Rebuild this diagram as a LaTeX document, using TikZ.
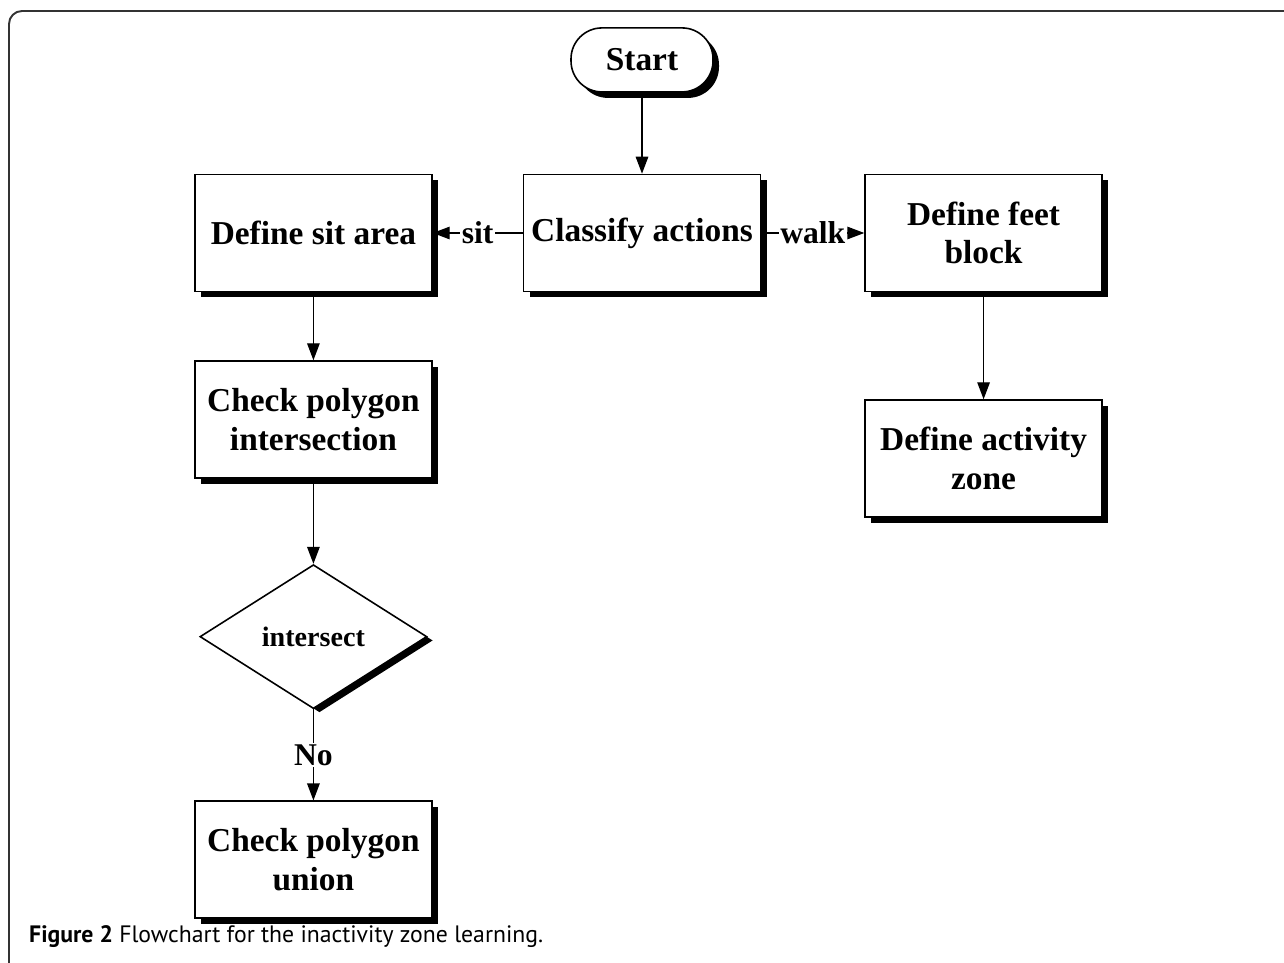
\documentclass[tikz,border=0pt]{standalone}
\usepackage{fontspec}
\setmainfont{Liberation Serif}
\newfontfamily\capfont{PT Sans}
\usepackage{tikz}
\usetikzlibrary{shapes.geometric, arrows.meta, positioning, shadows}
\usepackage{xcolor}
\definecolor{framestr}{HTML}{333333}
\tikzset{
  procbox/.style ={rectangle, draw=black, fill=white, line width=0.9pt,
                   minimum width=4.74cm, minimum height=2.34cm, align=center,
                   font=\fontsize{19}{22}\selectfont\bfseries,
                   drop shadow={shadow xshift=0.12cm, shadow yshift=-0.12cm, fill=black, opacity=1}},
  termbox/.style ={rectangle, rounded corners=0.62cm, draw=black, fill=white, line width=0.9pt,
                   minimum width=2.84cm, minimum height=1.28cm, align=center,
                   font=\fontsize{19}{22}\selectfont\bfseries,
                   drop shadow={shadow xshift=0.12cm, shadow yshift=-0.12cm, fill=black, opacity=1}},
  decbox/.style  ={diamond, draw=black, fill=white, line width=0.9pt, inner sep=0pt,
                   minimum width=4.54cm, minimum height=2.88cm, align=center,
                   font=\fontsize{16}{19}\selectfont\bfseries,
                   drop shadow={shadow xshift=0.12cm, shadow yshift=-0.076cm, fill=black, opacity=1}},
  lbl/.style     ={fill=white, inner sep=1pt, font=\fontsize{18}{20}\selectfont\bfseries},
  flow/.style    ={-{Triangle[length=0.34cm, width=0.25cm]}, line width=0.8pt},
}

\begin{document}
\begin{tikzpicture}
  \useasboundingbox (0,0) rectangle (25.68,-19.26);
  % frame of the figure
  \draw[framestr, line width=1.1pt, rounded corners=0.26cm]
    (0.18,-19.26) -- (0.18,-0.22) -- (25.68,-0.22);

  \node[procbox] (classify) at (12.84,-4.66) {Classify actions};
  \node[termbox, above=1.62cm of classify] (start) {Start};
  \node[procbox, left=1.8cm of classify] (sit) {Define sit area};
  \node[procbox, right=2.06cm of classify] (feet) {Define feet\\block};
  \node[procbox, below=1.36cm of sit] (inters) {Check polygon\\intersection};
  \node[procbox, below=2.14cm of feet] (activity) {Define activity\\zone};
  \node[decbox, below=1.7cm of inters] (dia) {intersect};
  \node[procbox, below=1.82cm of dia] (union) {Check polygon\\union};

  \draw[flow] (start) -- (classify);
  \draw[flow] (classify) -- node[lbl] {sit} (sit);
  \draw[flow] (classify) -- node[lbl] {walk} (feet);
  \draw[flow] (sit) -- (inters);
  \draw[flow] (feet) -- (activity);
  \draw[flow] (inters) -- (dia);
  \draw[flow] (dia) -- node[lbl] {No} (union);

  \node[anchor=west, font=\capfont\fontsize{13.5}{15}\selectfont] (caption) at (0.46,-18.74)
    {\textbf{Figure 2} Flowchart for the inactivity zone learning.};
\end{tikzpicture}
\end{document}
